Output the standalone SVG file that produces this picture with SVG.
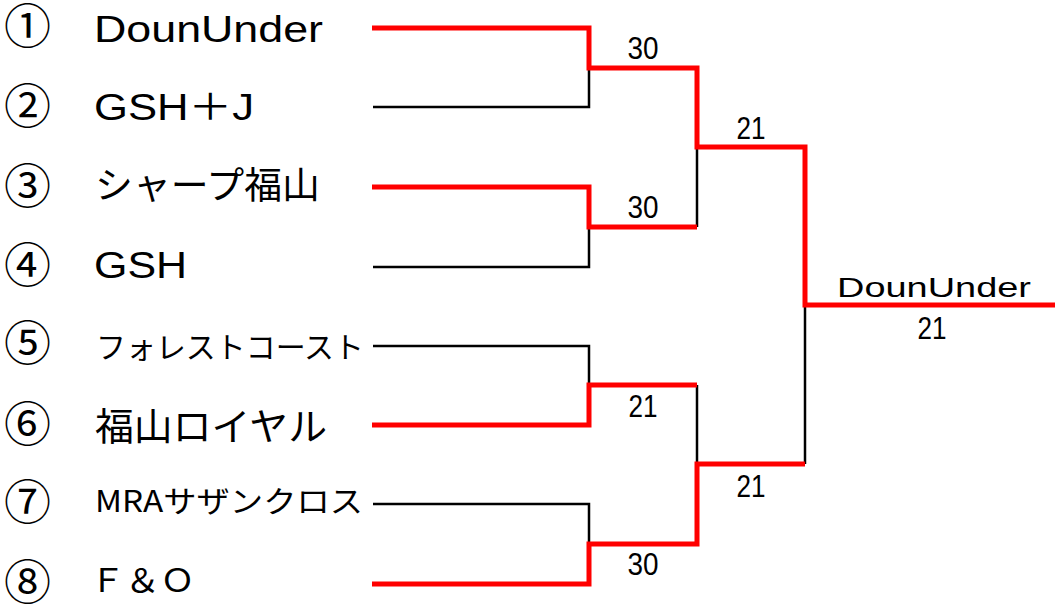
<svg xmlns="http://www.w3.org/2000/svg" width="1055" height="606" viewBox="0 0 1055 606">
<style>
.num{font-family:"Noto Sans CJK JP","DejaVu Sans",sans-serif;font-size:47px;text-anchor:middle;fill:#000}
.lat{font-family:"Liberation Sans","Noto Sans CJK JP",sans-serif;fill:#000}
.jp{font-family:"Noto Sans CJK JP",sans-serif;fill:#000}
.sc{font-family:"Liberation Sans",sans-serif;font-size:32px;text-anchor:middle;fill:#000}
.bk{fill:none;stroke:#000;stroke-width:2.5}
.rd{fill:none;stroke:#ff0000;stroke-width:5}
</style>
<rect width="1055" height="606" fill="#fff"/>
<g id="connectors">
<path class="bk" d="M373,107 H589 V68"/>
<path class="bk" d="M373,267 H589 V227"/>
<path class="bk" d="M697,147 V227"/>
<path class="bk" d="M373,346 H589 V385"/>
<path class="bk" d="M373,504 H589 V544"/>
<path class="bk" d="M697,385 V464"/>
<path class="bk" d="M805,305 V464"/>
<path class="rd" d="M372,28 H589 V68 H697 V147 H805 V305 H1055"/>
<path class="rd" d="M372,187 H589 V227 H697"/>
<path class="rd" d="M372,425 H589 V385 H697"/>
<path class="rd" d="M372,584 H589 V544 H697 V464 H805"/>
</g>
<g id="team1"><text class="num" x="27.5" y="43">①</text><text class="lat" x="94" y="42" font-size="36" textLength="229" lengthAdjust="spacingAndGlyphs">DounUnder</text></g>
<g id="team2"><text class="num" x="27.5" y="123">②</text><text class="lat" x="94" y="120" font-size="36" textLength="160" lengthAdjust="spacingAndGlyphs">GSH＋J</text></g>
<g id="team3"><text class="num" x="27.5" y="203">③</text><text class="jp" x="95" y="199" font-size="37" textLength="225" lengthAdjust="spacingAndGlyphs">シャープ福山</text></g>
<g id="team4"><text class="num" x="27.5" y="282">④</text><text class="lat" x="94" y="278" font-size="36" textLength="93" lengthAdjust="spacingAndGlyphs">GSH</text></g>
<g id="team5"><text class="num" x="27.5" y="360">⑤</text><text class="jp" x="96" y="358" font-size="29.5" textLength="268" lengthAdjust="spacingAndGlyphs">フォレストコースト</text></g>
<g id="team6"><text class="num" x="27.5" y="441">⑥</text><text class="jp" x="95" y="440" font-size="38" textLength="232" lengthAdjust="spacingAndGlyphs">福山ロイヤル</text></g>
<g id="team7"><text class="num" x="27.5" y="519">⑦</text><text class="jp" x="95" y="512" font-size="30" textLength="268" lengthAdjust="spacingAndGlyphs">MRAサザンクロス</text></g>
<g id="team8"><text class="num" x="27.5" y="599">⑧</text><text class="jp" x="90" y="592" font-size="32" textLength="105" lengthAdjust="spacingAndGlyphs">Ｆ＆Ｏ</text></g>
<g id="scores">
<text class="sc" x="643" y="59" textLength="31" lengthAdjust="spacingAndGlyphs">30</text>
<text class="sc" x="751" y="139" textLength="29" lengthAdjust="spacingAndGlyphs">21</text>
<text class="sc" x="643" y="218" textLength="31" lengthAdjust="spacingAndGlyphs">30</text>
<text class="sc" x="643" y="417" textLength="29" lengthAdjust="spacingAndGlyphs">21</text>
<text class="sc" x="751" y="497" textLength="29" lengthAdjust="spacingAndGlyphs">21</text>
<text class="sc" x="643" y="575" textLength="31" lengthAdjust="spacingAndGlyphs">30</text>
</g>
<g id="champion">
<text class="lat" x="837" y="297" font-size="28" textLength="194" lengthAdjust="spacingAndGlyphs">DounUnder</text>
<text class="sc" x="932" y="339" textLength="29" lengthAdjust="spacingAndGlyphs">21</text>
</g>
</svg>
